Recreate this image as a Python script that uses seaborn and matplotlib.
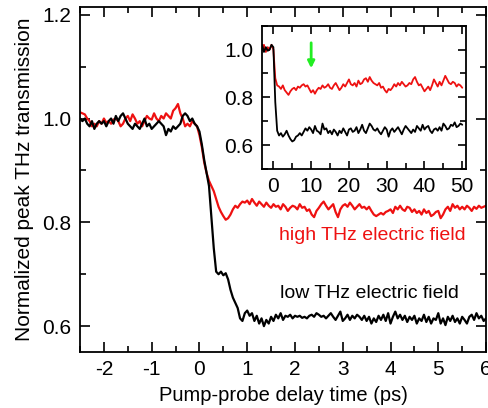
import numpy as np
import pandas as pd
import matplotlib

matplotlib.use("Agg")
import matplotlib.pyplot as plt
from matplotlib.ticker import MultipleLocator
import seaborn as sns

sns.set_theme(style="ticks")
plt.rcParams["font.family"] = ["Liberation Sans", "DejaVu Sans"]
plt.rcParams["axes.unicode_minus"] = False
plt.rcParams["text.color"] = "black"
plt.rcParams["axes.labelcolor"] = "black"

# main panel: delay time (ps), sampled every 0.05 ps
t_main = np.round(np.arange(-2.5, 6.0001, 0.05), 2)

low_field = [
    1.000, 0.995, 1.000, 0.990, 0.985, 0.995, 0.980, 0.990, 0.995, 0.990,
    0.995, 0.985, 0.995, 1.000, 0.990, 1.005, 0.995, 1.005, 1.010, 1.000,
    0.990, 0.985, 0.980, 0.990, 0.985, 0.980, 0.990, 1.000, 0.985, 0.990,
    0.980, 0.985, 0.990, 0.995, 0.990, 0.985, 0.968, 0.980, 0.975, 0.985,
    0.980, 0.985, 0.990, 1.005, 1.010, 1.005, 0.995, 1.000, 0.990, 0.985,
    0.975, 0.950, 0.920, 0.895, 0.870, 0.810, 0.750, 0.705, 0.700, 0.705,
    0.698, 0.702, 0.690, 0.670, 0.655, 0.645, 0.635, 0.615, 0.610, 0.625,
    0.630, 0.620, 0.625, 0.610, 0.620, 0.605, 0.615, 0.600, 0.612, 0.605,
    0.618, 0.610, 0.622, 0.615, 0.625, 0.612, 0.620, 0.618, 0.622, 0.615,
    0.620, 0.618, 0.620, 0.616, 0.618, 0.615, 0.620, 0.622, 0.618, 0.625,
    0.622, 0.618, 0.620, 0.615, 0.620, 0.625, 0.618, 0.612, 0.620, 0.628,
    0.610, 0.615, 0.622, 0.612, 0.620, 0.615, 0.622, 0.618, 0.612, 0.620,
    0.610, 0.618, 0.605, 0.615, 0.608, 0.620, 0.612, 0.622, 0.610, 0.625,
    0.605, 0.618, 0.628, 0.615, 0.622, 0.612, 0.620, 0.608, 0.618, 0.612,
    0.620, 0.605, 0.615, 0.610, 0.622, 0.608, 0.618, 0.605, 0.615, 0.612,
    0.625, 0.605, 0.615, 0.602, 0.618, 0.610, 0.620, 0.608, 0.615, 0.605,
    0.618, 0.612, 0.605, 0.618, 0.622, 0.612, 0.625, 0.615, 0.620, 0.610,
    0.615,
]

high_field = [
    1.012, 1.010, 1.008, 1.000, 0.995, 0.985, 0.990, 0.985, 0.995, 0.990,
    1.000, 0.992, 0.995, 0.990, 0.998, 1.000, 0.995, 0.985, 0.990, 1.000,
    1.005, 0.995, 1.008, 1.000, 0.990, 0.995, 0.985, 0.995, 1.005, 1.000,
    0.998, 1.010, 1.000, 0.995, 1.005, 1.000, 1.010, 1.005, 1.000, 1.015,
    1.020, 1.028, 1.010, 1.000, 0.985, 0.990, 0.985, 0.995, 0.990, 0.985,
    0.968, 0.945, 0.915, 0.895, 0.880, 0.870, 0.860, 0.845, 0.830, 0.820,
    0.812, 0.805, 0.808, 0.815, 0.825, 0.832, 0.828, 0.835, 0.840, 0.838,
    0.842, 0.835, 0.845, 0.838, 0.832, 0.840, 0.835, 0.830, 0.838, 0.832,
    0.828, 0.835, 0.830, 0.832, 0.825, 0.835, 0.830, 0.822, 0.828, 0.832,
    0.830, 0.825, 0.835, 0.828, 0.830, 0.822, 0.825, 0.815, 0.810, 0.822,
    0.828, 0.835, 0.840, 0.832, 0.825, 0.830, 0.835, 0.820, 0.810, 0.825,
    0.832, 0.835, 0.830, 0.838, 0.832, 0.825, 0.830, 0.835, 0.828, 0.830,
    0.825, 0.830, 0.822, 0.815, 0.812, 0.815, 0.818, 0.815, 0.820, 0.822,
    0.825, 0.818, 0.830, 0.825, 0.832, 0.825, 0.822, 0.830, 0.828, 0.820,
    0.825, 0.818, 0.822, 0.815, 0.825, 0.818, 0.822, 0.812, 0.815, 0.820,
    0.822, 0.808, 0.815, 0.825, 0.830, 0.822, 0.835, 0.828, 0.832, 0.825,
    0.830, 0.825, 0.832, 0.828, 0.822, 0.830, 0.826, 0.832, 0.828, 0.830,
    0.832,
]

# inset: long time window, sampled every 0.5 ps
t_inset = np.arange(-3.0, 50.001, 0.5)

low_inset = [
    1.02, 0.99, 1.01, 0.995, 1.00, 1.02, 1.01, 0.78, 0.66, 0.64,
    0.65, 0.635, 0.645, 0.66, 0.64, 0.625, 0.615, 0.62, 0.635, 0.64,
    0.65, 0.64, 0.655, 0.67, 0.66, 0.675, 0.665, 0.65, 0.68, 0.66,
    0.655, 0.645, 0.69, 0.665, 0.67, 0.65, 0.66, 0.645, 0.665, 0.655,
    0.64, 0.66, 0.65, 0.67, 0.655, 0.64, 0.665, 0.67, 0.655, 0.66,
    0.675, 0.65, 0.665, 0.685, 0.66, 0.65, 0.67, 0.69, 0.68, 0.665,
    0.66, 0.67, 0.655, 0.645, 0.66, 0.675, 0.665, 0.635, 0.66, 0.67,
    0.655, 0.665, 0.675, 0.66, 0.645, 0.665, 0.68, 0.67, 0.66, 0.65,
    0.665, 0.655, 0.68, 0.67, 0.66, 0.685, 0.665, 0.675, 0.68, 0.66,
    0.65, 0.665, 0.67, 0.66, 0.675, 0.66, 0.69, 0.68, 0.665, 0.67,
    0.685, 0.68, 0.695, 0.675, 0.68, 0.69, 0.685,
]

high_inset = [
    1.00, 1.02, 0.99, 1.01, 1.00, 1.02, 1.00, 0.88, 0.85, 0.845,
    0.835, 0.85, 0.83, 0.82, 0.81, 0.825, 0.835, 0.84, 0.83, 0.845,
    0.84, 0.85, 0.855, 0.845, 0.85, 0.835, 0.82, 0.83, 0.815, 0.83,
    0.84, 0.835, 0.85, 0.84, 0.845, 0.855, 0.84, 0.835, 0.85, 0.86,
    0.845, 0.83, 0.84, 0.855, 0.845, 0.86, 0.875, 0.855, 0.85, 0.86,
    0.845, 0.87, 0.855, 0.86, 0.875, 0.88, 0.865, 0.885, 0.87, 0.86,
    0.855, 0.85, 0.86, 0.84, 0.845, 0.83, 0.82, 0.835, 0.83, 0.84,
    0.855, 0.845, 0.86, 0.85, 0.865, 0.855, 0.845, 0.85, 0.86, 0.855,
    0.875, 0.885, 0.865, 0.85, 0.855, 0.84, 0.825, 0.835, 0.845, 0.83,
    0.85, 0.875, 0.86, 0.845, 0.865, 0.85, 0.87, 0.89, 0.875, 0.86,
    0.855, 0.865, 0.86, 0.845, 0.855, 0.85, 0.84,
]

arrow_x = 10
arrow_from, arrow_to = 1.04, 0.91

RED = "#ee1111"
BLACK = "#000000"
GREEN = "#22ee22"


def style_axes(ax, fs, major_len, minor_len):
    for s in ax.spines.values():
        s.set_linewidth(1.3)
        s.set_color("black")
    ax.tick_params(which="both", direction="in", top=True, right=True,
                   width=1.2, colors="black", labelsize=fs, pad=6)
    ax.tick_params(which="major", length=major_len)
    ax.tick_params(which="minor", length=minor_len)
    ax.grid(False)


fig = plt.figure(figsize=(4.88, 4.08), dpi=100)
ax = fig.add_axes([0.164, 0.137, 0.832, 0.846])

df_low = pd.DataFrame({"t": t_main, "T": low_field})
df_high = pd.DataFrame({"t": t_main, "T": high_field})
sns.lineplot(data=df_high, x="t", y="T", color=RED, lw=1.6, ax=ax)
sns.lineplot(data=df_low, x="t", y="T", color=BLACK, lw=1.6, ax=ax)

ax.set_xticks([-2, -1, 0, 1, 2, 3, 4, 5, 6])
ax.xaxis.set_minor_locator(MultipleLocator(0.5))
ax.yaxis.set_major_locator(MultipleLocator(0.2))
ax.yaxis.set_minor_locator(MultipleLocator(0.1))
ax.set_xlim(-2.5, 6)
ax.set_ylim(0.55, 1.215)
style_axes(ax, 15, 7, 4)
ax.set_xlabel("Pump-probe delay time (ps)", fontsize=14.5, labelpad=5)
ax.set_ylabel("Normalized peak THz transmission", fontsize=15, labelpad=6)

ax.text(3.62, 0.775, "high THz electric field", color=RED, fontsize=14,
        ha="center", va="center")
ax.text(3.56, 0.662, "low THz electric field", color=BLACK, fontsize=14,
        ha="center", va="center")

# inset
axi = fig.add_axes([0.537, 0.586, 0.418, 0.351])
di_low = pd.DataFrame({"t": t_inset, "T": low_inset})
di_high = pd.DataFrame({"t": t_inset, "T": high_inset})
sns.lineplot(data=di_high, x="t", y="T", color=RED, lw=1.3, ax=axi)
sns.lineplot(data=di_low, x="t", y="T", color=BLACK, lw=1.3, ax=axi)
axi.xaxis.set_major_locator(MultipleLocator(10))
axi.xaxis.set_minor_locator(MultipleLocator(5))
axi.set_yticks([0.6, 0.8, 1.0])
axi.yaxis.set_minor_locator(MultipleLocator(0.1))
axi.set_xlim(-3, 51)
axi.set_ylim(0.5, 1.1)
style_axes(axi, 15, 6, 4)
axi.set_xlabel("")
axi.set_ylabel("")
axi.annotate("", xy=(arrow_x, arrow_to), xytext=(arrow_x, arrow_from),
             arrowprops=dict(arrowstyle="-|>", color=GREEN, lw=2,
                             mutation_scale=10))

fig.savefig("out.png", dpi=100)
